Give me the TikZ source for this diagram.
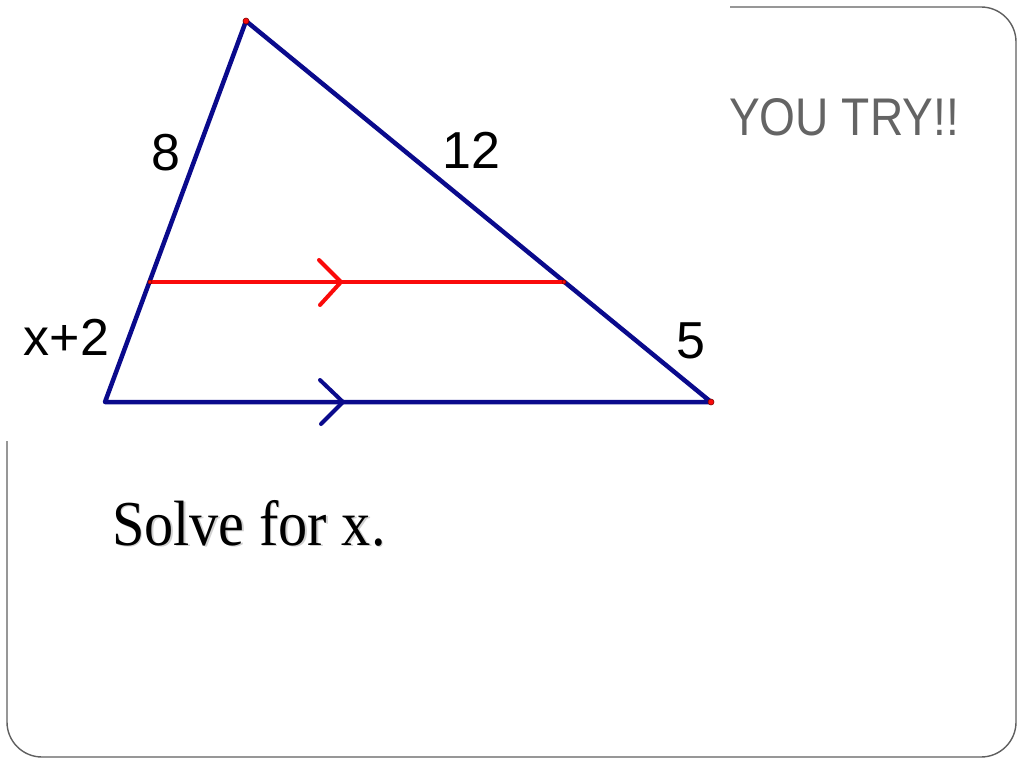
\documentclass[tikz,border=0pt]{standalone}
\usepackage{fontspec}
\setmainfont{Liberation Serif}
\newfontfamily\labelfont{Liberation Sans}
\usetikzlibrary{calc}
\definecolor{triblue}{RGB}{10,10,140}
\definecolor{midred}{RGB}{250,10,10}
\definecolor{titlegrey}{RGB}{100,100,100}
\definecolor{framegrey}{RGB}{95,95,95}

\begin{document}
\begin{tikzpicture}
      [
        x = 1pt, y = -1pt,
        side/.style = {draw=triblue, line width=4.5pt, line cap=round, line join=round},
        midseg/.style = {draw=midred, line width=4.5pt},
        chev/.style = {line width=4pt, line cap=round},
        vdot/.style = {circle, fill=midred, draw=red!50!black, line width=0.6pt, inner sep=0pt, minimum size=6pt},
        lbl/.style = {anchor=base, inner sep=0pt, font=\labelfont\fontsize{52}{56}\selectfont}
      ]

      \useasboundingbox (0,0) rectangle (1024,768);

      % frame of the slide, partly hidden by the picture
      \draw[framegrey, line width=1.4pt, rounded corners=35pt]
        (730,7) -- (1016,7) -- (1016,757) -- (7,757) -- (7,441);

      \coordinate (top) at (246,21);
      \coordinate (botleft) at (105,402);
      \coordinate (botright) at (711,402);
      \coordinate (midleft) at (150,282);
      \coordinate (midright) at (564,282);
      \coordinate (redtip) at (341,282);
      \coordinate (bluetip) at (343,402);

      \draw[side] (botleft) -- (top) -- (botright) -- cycle;
      \draw[midseg] (midleft) -- (midright);

      \draw[chev, midred] ($(redtip)+(-22,-22)$) -- (redtip) -- ++(-21,23);
      \draw[chev, triblue] ($(bluetip)+(-23,-22)$) -- (bluetip) -- ++(-22,22);

      \node[vdot] (dtop) at (top) {};
      \node[vdot] (dright) at (botright) {};
      \node[vdot, minimum size=4pt] (dmidl) at (midleft) {};
      \node[vdot, minimum size=4pt] (dmidr) at (midright) {};

      \node[lbl] (eight) at (166,170) {8};
      \node[lbl] (twelve) at (471.5,168) {12};
      \node[lbl] (xplus) at (66.5,355) {x+2};
      \node[lbl] (five) at (691,358) {5};

      \node[anchor=base, inner sep=0pt, text=titlegrey, xscale=0.87,
            font=\labelfont\fontsize{53}{58}\selectfont] (title) at (844,135) {YOU TRY!!};

      % soft shadow under the task text
      \node[anchor=base west, inner sep=0pt, text=black!18, xscale=0.91,
            font=\fontsize{64}{70}\selectfont] (shadow) at (113.5,546.5) {Solve for x.};
      \node[anchor=base west, inner sep=0pt, xscale=0.91,
            font=\fontsize{64}{70}\selectfont] (task) at (112,545) {Solve for x.};

\end{tikzpicture}
\end{document}
